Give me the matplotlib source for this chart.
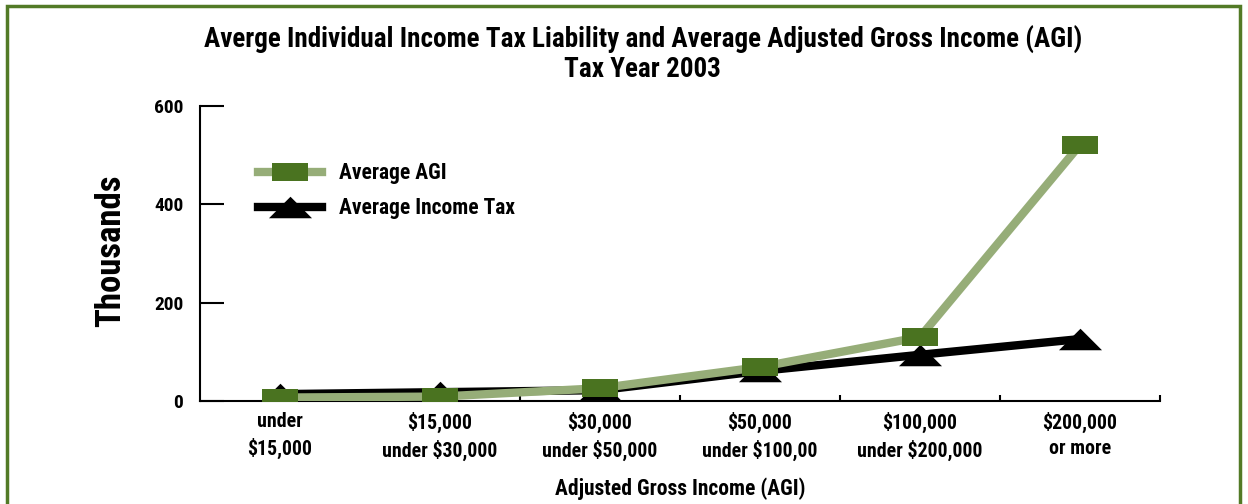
import matplotlib.pyplot as plt
import matplotlib.patches as patches
import numpy as np

# data (thousands of dollars)
categories = ['under\n$15,000', '$15,000\nunder $30,000', '$30,000\nunder $50,000',
              '$50,000\nunder $100,00', '$100,000\nunder $200,000', '$200,000\nor more']
avg_agi = [7, 9, 26, 69, 130, 521]
avg_tax = [14, 18, 22, 61, 94, 126]
y_ticks = [0, 200, 400, 600]

plt.rcParams['font.family'] = ['Roboto Condensed', 'DejaVu Sans']
plt.rcParams['font.weight'] = 'bold'
plt.rcParams['axes.labelweight'] = 'bold'

light_green = '#96ad78'
dark_green = '#4a7320'

# flat rectangle and flat triangle markers
rect = [(-1, -0.52), (1, -0.52), (1, 0.52), (-1, 0.52), (-1, -0.52)]
tri = [(0, 0.5), (-1, -0.5), (1, -0.5), (0, 0.5)]

fig = plt.figure(figsize=(12.48, 5.04), dpi=100)
ax = fig.add_axes([200 / 1248, 1 - 401 / 504, 960 / 1248, 295 / 504])

x = np.arange(len(categories))
ax.plot(x, avg_tax, color='black', lw=6, marker=tri, markersize=31,
        markerfacecolor='black', markeredgewidth=0, label='Average Income Tax', zorder=3)
ax.plot(x, avg_agi, color=light_green, lw=6, marker=rect, markersize=25.5,
        markerfacecolor=dark_green, markeredgewidth=0, label='Average AGI', zorder=4)

ax.set_xlim(-0.5, len(categories) - 0.5)
ax.set_ylim(0, 600)
ax.set_yticks(y_ticks)
ax.set_xticks(x)
ax.set_xticklabels(categories, fontsize=14.3, linespacing=1.4)
ax.set_xticks(np.arange(len(categories)) + 0.5, minor=True)
ax.tick_params(axis='x', which='major', length=0, pad=8)
ax.tick_params(axis='x', which='minor', direction='in', length=4.5, width=1.5)
ax.tick_params(axis='y', direction='in', length=17, width=1.5, labelsize=14, pad=12)

for s in ['top', 'right']:
    ax.spines[s].set_visible(False)
for s in ['left', 'bottom']:
    ax.spines[s].set_linewidth(1.5)

ax.set_ylabel('Thousands', fontsize=25)
ax.yaxis.set_label_coords(-0.076, 0.51)
ax.set_xlabel('Adjusted Gross Income (AGI)', fontsize=15.5)
ax.xaxis.set_label_coords(0.5, -0.26)

# legend, AGI first
h, l = ax.get_legend_handles_labels()
ax.legend(h[::-1], l[::-1], loc='upper left', bbox_to_anchor=(0.04, 0.875), frameon=False,
          fontsize=15.5, handlelength=3.0, handletextpad=0.75, labelspacing=0.6)

fig.suptitle('Averge Individual Income Tax Liability and Average Adjusted Gross Income (AGI)\nTax Year 2003',
             x=0.515, y=0.948, fontsize=19.5, fontweight='bold', linespacing=1.1)

# green frame around the figure (bottom edge is cut off)
fig.patches.append(patches.Rectangle((7 / 1248, -0.1), 1233 / 1248, 1.1 - 6 / 504,
                                     transform=fig.transFigure, fill=False,
                                     edgecolor='#527a26', lw=2.5))

fig.savefig('out.png', dpi=100)
